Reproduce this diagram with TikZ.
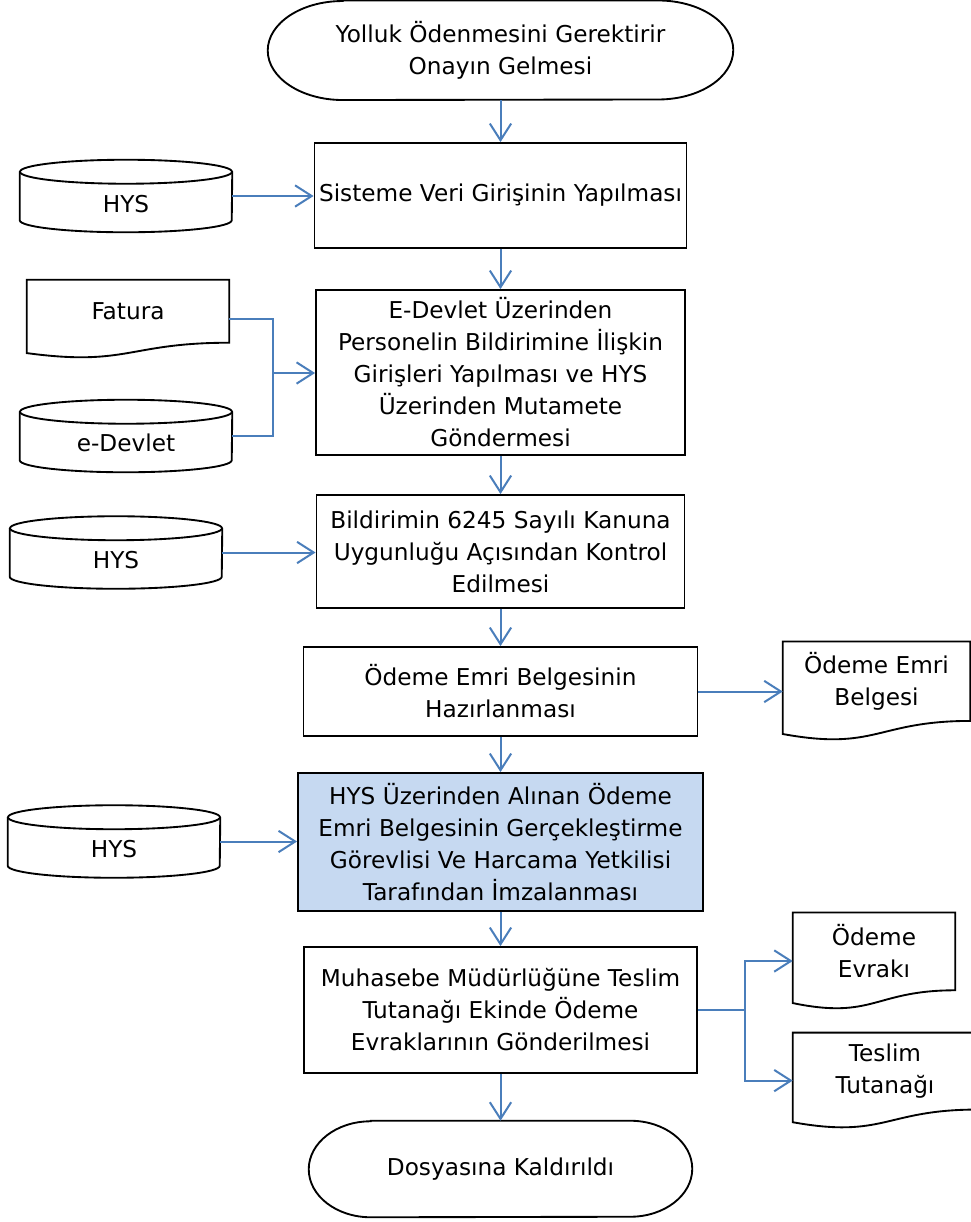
\documentclass[tikz,border=0pt]{standalone}
\usepackage{fontspec}
\setmainfont{DejaVu Sans}
\usetikzlibrary{arrows.meta,calc}
\definecolor{conn}{HTML}{4A7EBB}
\definecolor{hilite}{HTML}{C6D9F1}
\tikzset{
  shp/.style={draw=black,line width=1.4pt},
  procbox/.style={shp,rectangle,inner sep=0pt,align=center},
  blank/.style={rectangle,inner sep=0pt,draw=none},
  txt/.style={inner sep=0pt,align=center},
  link/.style={draw=conn,line width=1.5pt},
  arrowlink/.style={link,-{Straight Barb[length=12.5pt,width=16pt,line width=1.5pt]}},
}
\newcommand\termoutline[3]{%
  \draw[shp] ([xshift=#2]#1.north west) -- ([xshift=-#2]#1.north east)
    arc[start angle=90,end angle=-90,x radius=#2,y radius=#3]
    -- ([xshift=#2]#1.south west)
    arc[start angle=270,end angle=90,x radius=#2,y radius=#3] -- cycle;}
\newcommand\cyloutline[3]{%
  \draw[shp] ([yshift=-#3]#1.north west) -- ([yshift=#3]#1.south west)
    arc[start angle=180,end angle=360,x radius=#2,y radius=#3]
    -- ([yshift=-#3]#1.north east);
  \draw[shp] ([yshift=-#3]#1.north) ellipse[x radius=#2,y radius=#3];}
\newcommand\docoutline[1]{%
  \draw[shp] (#1.north west) -- (#1.north east) -- ($(#1.north east)!0.802!(#1.south east)$)
    .. controls ($(#1.north)!0.802!(#1.south)$) and ($(#1.north)!1.1075!(#1.south)$)
    .. ($(#1.north west)!0.934!(#1.south west)$) -- cycle;}
\begin{document}
\begin{tikzpicture}[x=0.75pt,y=-0.75pt,font=\fontsize{17.4}{24}\selectfont]
\fill[white] (0,0) rectangle (971,1222);
\useasboundingbox (0,0) rectangle (971,1222);

% main column
\node[blank,minimum width=348.75pt,minimum height=74.25pt,align=center] (start) at (500.5,50.25)
  {Yolluk Ödenmesini Gerektirir\\Onayın Gelmesi};
\termoutline{start}{56.25pt}{37.125pt}

\node[procbox,minimum width=279pt,minimum height=78.75pt] (b1) at (500.5,195.5)
  {Sisteme Veri Girişinin Yapılması};
\node[procbox,minimum width=276.75pt,minimum height=123.75pt] (b2) at (500.5,372.5)
  {E-Devlet Üzerinden\\Personelin Bildirimine İlişkin\\Girişleri Yapılması ve HYS\\Üzerinden Mutamete\\Göndermesi};
\node[procbox,minimum width=276pt,minimum height=84.75pt] (b3) at (500.5,551.5)
  {Bildirimin 6245 Sayılı Kanuna\\Uygunluğu Açısından Kontrol\\Edilmesi};
\node[procbox,minimum width=295.5pt,minimum height=66.75pt] (b4) at (500.5,691.5)
  {Ödeme Emri Belgesinin\\Hazırlanması};
\node[procbox,fill=hilite,minimum width=303.75pt,minimum height=103.5pt] (b5) at (500.5,842)
  {HYS Üzerinden Alınan Ödeme\\Emri Belgesinin Gerçekleştirme\\Görevlisi Ve Harcama Yetkilisi\\Tarafından İmzalanması};
\node[procbox,minimum width=294.75pt,minimum height=94.5pt] (b6) at (500.5,1010)
  {Muhasebe Müdürlüğüne Teslim\\Tutanağı Ekinde Ödeme\\Evraklarının Gönderilmesi};
\node[blank,minimum width=287.25pt,minimum height=72pt,align=center] (end) at (500.5,1169)
  {Dosyasına Kaldırıldı};
\termoutline{end}{46.5pt}{36pt}

% cylinders (data stores)
\node[blank,minimum width=159pt,minimum height=54pt] (hys1) at (126,196) {};
\cyloutline{hys1}{79.5pt}{9pt}
\node[txt] (hys1t) at (126,204) {HYS};
\node[blank,minimum width=159pt,minimum height=54pt] (edevlet) at (126,436) {};
\cyloutline{edevlet}{79.5pt}{9pt}
\node[txt] (edevlett) at (126,443) {e-Devlet};
\node[blank,minimum width=159pt,minimum height=54pt] (hys2) at (116,552.5) {};
\cyloutline{hys2}{79.5pt}{9pt}
\node[txt] (hys2t) at (116,560) {HYS};
\node[blank,minimum width=159pt,minimum height=54pt] (hys3) at (114,841.5) {};
\cyloutline{hys3}{79.5pt}{9pt}
\node[txt] (hys3t) at (114,849) {HYS};

% documents
\node[blank,minimum width=151.5pt,minimum height=58.5pt] (fatura) at (128,319) {};
\docoutline{fatura}
\node[txt] (faturat) at ($(fatura.north)!0.401!(fatura.south)$) {Fatura};
\node[blank,minimum width=140.25pt,minimum height=73.9pt] (oeb) at (876.5,691) {};
\docoutline{oeb}
\node[txt] (oebt) at ($(oeb.north)!0.401!(oeb.south)$) {Ödeme Emri\\Belgesi};
\node[blank,minimum width=121.5pt,minimum height=72.3pt] (evrak) at (874,961) {};
\docoutline{evrak}
\node[txt] (evrakt) at ($(evrak.north)!0.401!(evrak.south)$) {Ödeme\\Evrakı};
\node[blank,minimum width=138pt,minimum height=71.5pt] (teslim) at (885,1080.6) {};
\docoutline{teslim}
\node[txt] (teslimt) at ($(teslim.north)!0.401!(teslim.south)$) {Teslim\\Tutanağı};

% junctions
\coordinate (j1) at (273,373);
\coordinate (j2) at (745,1010);

% connectors
\draw[arrowlink] (start.south) -- (b1.north);
\draw[arrowlink] (b1.south) -- (b2.north);
\draw[arrowlink] (b2.south) -- (b3.north);
\draw[arrowlink] (b3.south) -- (b4.north);
\draw[arrowlink] (b4.south) -- (b5.north);
\draw[arrowlink] (b5.south) -- (b6.north);
\draw[arrowlink] (b6.south) -- (end.north);

\draw[arrowlink] (hys1.east) -- (hys1.east -| b1.west);
\draw[link] (fatura.east) -| (j1);
\draw[link] (edevlet.east) -| (j1);
\draw[arrowlink] (j1) -- (j1 -| b2.west);
\draw[arrowlink] (hys2.east) -- (hys2.east -| b3.west);
\draw[arrowlink] (b4.east) -- (b4.east -| oeb.west);
\draw[arrowlink] (hys3.east) -- (hys3.east -| b5.west);
\draw[link] (b6.east) -- (j2);
\draw[arrowlink] (j2) |- (evrak.west);
\draw[arrowlink] (j2) |- (teslim.west);
\end{tikzpicture}
\end{document}
